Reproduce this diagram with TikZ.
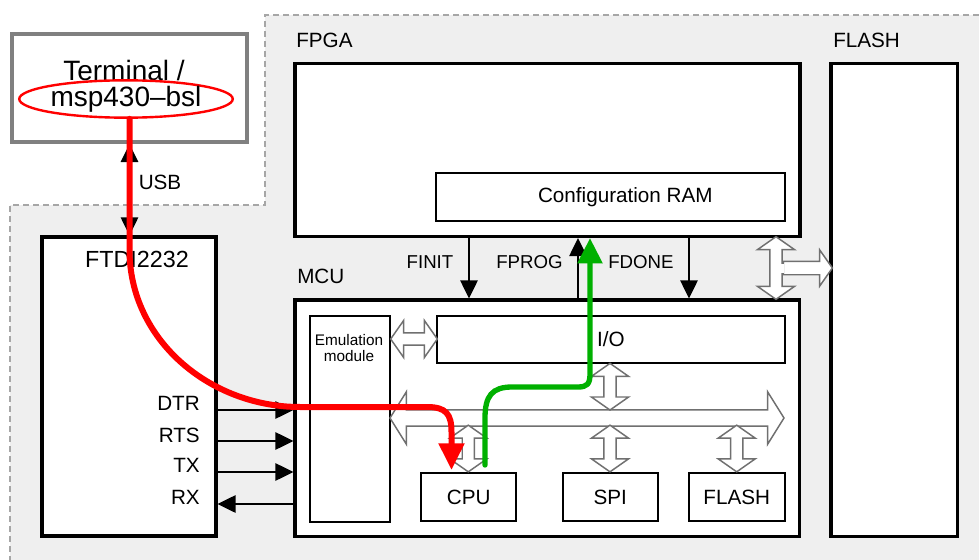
\documentclass[tikz,border=0pt]{standalone}
\usepackage{fontspec}
\setmainfont{Liberation Sans}
\usepackage{tikz}
\usetikzlibrary{arrows.meta, positioning, calc, shapes.geometric, shapes.arrows}

\definecolor{boardgray}{HTML}{EFEFEF}
\definecolor{dashgray}{HTML}{A6A6A6}
\definecolor{termgray}{HTML}{808080}
\definecolor{hollowgray}{HTML}{707070}
\definecolor{flowgreen}{HTML}{00B000}

\begin{document}
\begin{tikzpicture}[
    x=0.75pt, y=-0.75pt,
    >={Triangle[length=13.5pt, width=13pt]},
    lbl/.style={font=\fontsize{15.5}{18}\selectfont, inner sep=0pt},
    pin/.style={font=\fontsize{14}{16}\selectfont, inner sep=0pt},
    chip/.style={rectangle, draw=black, line width=2.3pt, fill=white, inner sep=0pt},
    blk/.style={rectangle, draw=black, line width=1.5pt, fill=white, inner sep=0pt,
                minimum height=36pt, font=\fontsize{15.5}{18}\selectfont},
    sig/.style={line width=1.2pt, ->},
    hollow/.style={double arrow, draw=hollowgray, fill=white, line width=1.1pt,
                   inner xsep=0pt, inner ysep=4pt, double arrow head extend=9.4pt,
                   double arrow tip angle=110},
    bus/.style={hollow, inner ysep=5.6pt, double arrow head extend=13.5pt,
                double arrow tip angle=116},
    tohead/.style={single arrow, draw=hollowgray, fill=white, line width=1.1pt,
                   inner xsep=0pt, inner ysep=4.5pt, single arrow head extend=8.5pt,
                   single arrow tip angle=110},
    flow/.style={line width=4.5pt, line cap=round},
  ]
  \useasboundingbox (0,0) rectangle (979,560);

  % board background
  \fill[boardgray] (265,15) -- (979,15) -- (979,560) -- (10,560) -- (10,205) -- (265,205) -- cycle;
  \draw[dashgray, line width=1.2pt, dash pattern=on 4.5pt off 3pt]
    (979,15) -- (265,15) -- (265,205) -- (10,205) -- (10,560);

  % host
  \node[chip, draw=termgray, line width=3pt, minimum width=176.25pt, minimum height=81pt] (term) at (129.5,88) {};
  \node[font=\fontsize{21}{24}\selectfont, inner sep=0pt] (termtxt) at (124,70) {Terminal /};
  \node[ellipse, draw=red, line width=1.8pt, minimum width=154pt, minimum height=28pt,
        inner sep=0pt, font=\fontsize{21}{24}\selectfont] (bsl) at (126,99) {msp430–bsl};

  % chips
  \node[chip, minimum width=130.5pt, minimum height=224.25pt] (ftdi) at (129,386.5) {};
  \node[chip, minimum width=378.75pt, minimum height=129.75pt] (fpga) at (547.5,150) {};
  \node[chip, minimum width=378.4pt, minimum height=177.4pt] (mcu) at (547.25,418.25) {};
  \node[chip, minimum width=94.9pt, minimum height=354.75pt] (flash) at (894.25,300) {};

  \node[lbl, anchor=base west] (fpgalbl) at (296,48) {FPGA};
  \node[lbl, anchor=base west] (flashlbl) at (833,48) {FLASH};
  \node[lbl, anchor=base west] (mculbl) at (297,283) {MCU};
  \node[font=\fontsize{17.5}{20}\selectfont, inner sep=0pt] (ftdilbl) at (137,259) {FTDI2232};

  % blocks inside FPGA and MCU
  \node[blk, minimum width=261.5pt, label={[lbl, xshift=11pt]center:Configuration RAM}] (cram) at (610.7,197.3) {};
  \node[blk, minimum width=261.2pt, minimum height=35.25pt] (io) at (610.8,339.5) {I/O};
  \node[blk, minimum width=59.5pt, minimum height=154.3pt] (emu) at (350,418.8) {};
  \node[font=\fontsize{11.5}{11.8}\selectfont, align=center, inner sep=0pt, anchor=north] (emutxt) at (349,334.5) {Emulation\\module};
  \node[blk, minimum width=71.5pt] (cpu) at (468.7,497.3) {CPU};
  \node[blk, minimum width=71.5pt] (spi) at (610.3,497.3) {SPI};
  \node[blk, minimum width=72pt] (mflash) at (736.7,497.3) {FLASH};

  % hollow buses
  \node[hollow, minimum height=35pt] (emuio) at (414,339) {};
  \node[bus, minimum height=295.5pt] (mbus) at (587,418) {};
  \node[hollow, rotate=90, minimum height=35pt] (iobus) at (610,386.7) {};
  \node[hollow, rotate=90, minimum height=35pt] (cpubus) at (468.3,448.5) {};
  \node[hollow, rotate=90, minimum height=35pt] (spibus) at (610,448.5) {};
  \node[hollow, rotate=90, minimum height=35pt] (flashbus) at (736.7,448.5) {};
  \node[tohead, minimum height=36.75pt] (toflash) at (805.5,268) {};
  \node[hollow, rotate=90, minimum height=47pt] (fpgamcu) at (776,268) {};
  \fill[white] (772,264) rectangle (783.5,272.5);

  % FTDI <-> MCU
  \node[lbl, anchor=east] (dtrlbl) at (200,403) {DTR};
  \node[lbl, anchor=east] (rtslbl) at (200,435) {RTS};
  \node[lbl, anchor=east] (txlbl) at (200,465) {TX};
  \node[lbl, anchor=east] (rxlbl) at (200,497) {RX};
  \draw[sig] (ftdi.east |- 0,410) -- (mcu.west |- 0,410);
  \draw[sig] (ftdi.east |- 0,441) -- (mcu.west |- 0,441);
  \draw[sig] (ftdi.east |- 0,472) -- (mcu.west |- 0,472);
  \draw[sig] (mcu.west |- 0,504) -- (ftdi.east |- 0,504);

  % FPGA <-> MCU
  \draw[sig] (fpga.south -| 469,0) -- (mcu.north -| 469,0);
  \draw[sig] (mcu.north -| 578,0) -- (fpga.south -| 578,0);
  \draw[sig] (fpga.south -| 689,0) -- (mcu.north -| 689,0);
  \node[pin] (finitlbl) at (430,262) {FINIT};
  \node[pin] (fproglbl) at (529.5,262) {FPROG};
  \node[pin] (fdonelbl) at (641,262) {FDONE};

  % USB
  \draw[sig, <->] (term.south) -- (ftdi.north -| term.south);
  \node[lbl] (usblbl) at (160,182.5) {USB};

  % bootloader path and configuration path
  \coordinate (redtip) at (451.5,470);
  \coordinate (greenfoot) at (485,465);
  \draw[flow, red, -{Triangle[length=20pt, width=18.5pt]}]
    (bsl.south -| term.south) -- (129.5,250) .. controls (129.5,340) and (210,407) .. (300,407)
    -- (427,407) .. controls (446,407) and (451.5,414) .. (451.5,432) -- (redtip);
  \draw[flow, flowgreen, line width=4pt, -{Triangle[length=19pt, width=18pt]}]
    (greenfoot) -- (485,418) .. controls (485,396) and (492,387) .. (512,387)
    -- (578,387) .. controls (587,387) and (590,384) .. (590,374) -- (fpga.south -| 590,0);
\end{tikzpicture}
\end{document}
